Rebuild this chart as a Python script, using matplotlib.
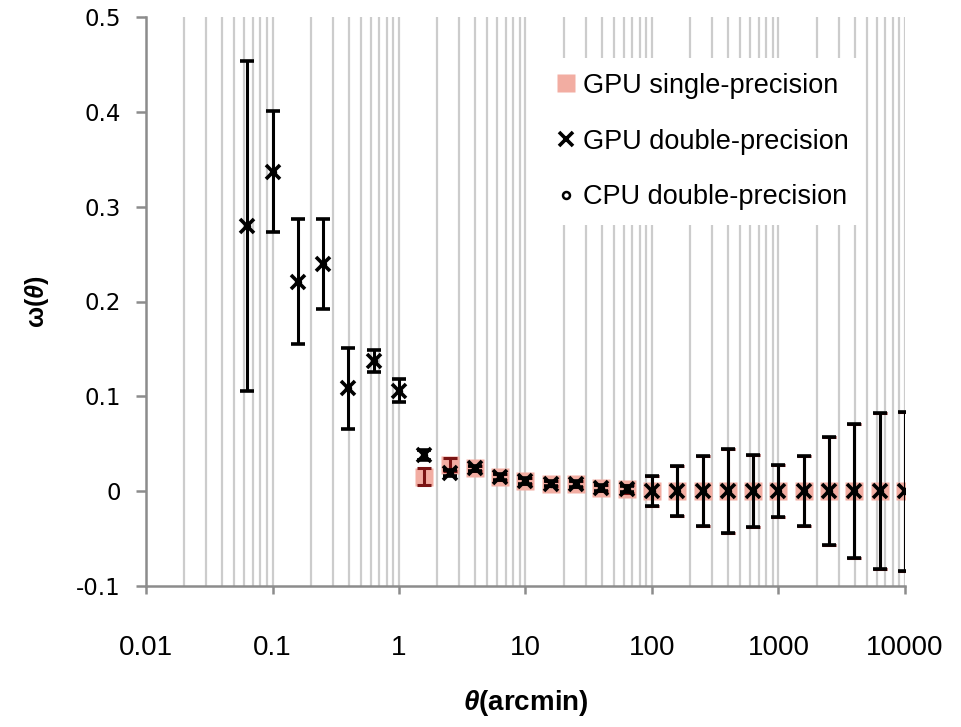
import matplotlib
matplotlib.use("Agg")
import matplotlib.pyplot as plt
from matplotlib.lines import Line2D

plt.rcParams['mathtext.fontset'] = 'custom'
plt.rcParams['mathtext.it'] = 'Liberation Sans:italic:bold'
plt.rcParams['mathtext.rm'] = 'Liberation Sans:bold'

# angular separation bins (arcmin)
theta = [0.0631, 0.1, 0.1585, 0.2512, 0.3981, 0.631, 1.0, 1.585, 2.512, 3.981,
         6.31, 10.0, 15.85, 25.12, 39.81, 63.1, 100.0, 158.5, 251.2, 398.1,
         631.0, 1000.0, 1585.0, 2512.0, 3981.0, 6310.0, 10000.0]

# GPU double precision correlation and error
w_gpu_double = [0.280, 0.337, 0.221, 0.2395, 0.1085, 0.137, 0.106, 0.038, 0.019, 0.024,
                0.015, 0.011, 0.008, 0.0075, 0.003, 0.002, 0.0005, 0.0003, 0.0003, 0.0002,
                0.0002, 0.0002, 0.0001, 0.0001, 0.0001, 0.0, 0.0]
err_double = [0.174, 0.064, 0.066, 0.0475, 0.0425, 0.0115, 0.012, 0.005, 0.003, 0.003,
              0.003, 0.003, 0.003, 0.003, 0.003, 0.003, 0.016, 0.026, 0.037, 0.044,
              0.038, 0.027, 0.037, 0.057, 0.071, 0.082, 0.084]

# CPU double precision (same values as the GPU double run)
w_cpu_double = list(w_gpu_double)

# GPU single precision only for theta >= 1.585
theta_single = theta[7:]
w_gpu_single = [0.015, 0.028, 0.024, 0.015, 0.011, 0.008, 0.0075, 0.003, 0.002, 0.0005,
                0.0003, 0.0003, 0.0002, 0.0002, 0.0002, 0.0001, 0.0001, 0.0001, 0.0, 0.0]
err_single = [0.009, 0.007, 0.003, 0.003, 0.003, 0.003, 0.003, 0.003, 0.004, 0.016,
              0.026, 0.037, 0.044, 0.038, 0.027, 0.037, 0.057, 0.071, 0.082, 0.084]

xtick_vals = [0.01, 0.1, 1, 10, 100, 1000, 10000]
xtick_labels = ['0.01', '0.1', '1', '10', '100', '1000', '10000']
ytick_vals = [-0.1, 0, 0.1, 0.2, 0.3, 0.4, 0.5]
ytick_labels = ['-0.1', '0', '0.1', '0.2', '0.3', '0.4', '0.5']
grid_ticks = [m * 10.0 ** e for e in range(-2, 4) for m in range(2, 11)]

fig = plt.figure(figsize=(9.62, 7.27), dpi=100)
ax = fig.add_axes([146 / 962, 1 - 586 / 727, 759 / 962, 569 / 727])

ax.set_xscale('log')
ax.set_xlim(0.01, 10000)
ax.set_ylim(-0.1, 0.5)

gray = '#8c8c8c'
salmon = '#f2ada2'

# single precision: squares under their own dark red bars
ax.plot(theta_single, w_gpu_single, 's', ms=12.5, mfc=salmon, mec='none', zorder=2)
ax.errorbar(theta_single, w_gpu_single, yerr=err_single, fmt='none',
            ecolor='#7a1414', elinewidth=2.2, capsize=4.7, capthick=2.2, zorder=3)
ax.errorbar(theta, w_gpu_double, yerr=err_double, fmt='x', ms=10, mew=2.6,
            color='black', ecolor='black', elinewidth=2.2,
            capsize=4.7, capthick=2.2, zorder=4)
ax.plot(theta, w_cpu_double, 'o', ms=4, mfc='none', mec='black', mew=1.3, zorder=5)

# vertical grid at every log step
ax.set_xticks(xtick_vals)
ax.set_xticklabels(xtick_labels)
ax.set_xticks(grid_ticks, minor=True)
ax.grid(True, which='both', axis='x', color='#cccccc', lw=1.6, zorder=0)
ax.set_axisbelow(True)

ax.set_yticks(ytick_vals)
ax.set_yticklabels(ytick_labels)

for s in ['top', 'right']:
    ax.spines[s].set_visible(False)
for s in ['left', 'bottom']:
    ax.spines[s].set_color(gray)
    ax.spines[s].set_linewidth(1.8)

ax.tick_params(axis='x', which='major', direction='out', length=6, width=1.8,
               color=gray, pad=29, labelsize=20, labelfontfamily='Liberation Sans')
ax.tick_params(axis='x', which='minor', length=0)
ax.tick_params(axis='y', direction='out', length=7, width=1.8, color=gray, pad=11,
               labelsize=16.5, labelfontfamily='DejaVu Sans')

ax.set_xlabel(r'$\theta$(arcmin)', fontsize=20, fontweight='bold',
              family=['Liberation Sans', 'DejaVu Sans'], labelpad=20)
ax.set_ylabel(r'ω($\theta$)', fontsize=18, fontweight='bold',
              family=['Liberation Sans', 'DejaVu Sans'], labelpad=18)

handles = [
    Line2D([], [], ls='none', marker='s', ms=12.5, mfc=salmon, mec='none'),
    Line2D([], [], ls='none', marker='x', ms=10, mew=2.6, color='black'),
    Line2D([], [], ls='none', marker='o', ms=5, mfc='none', mec='black', mew=1.8),
]
leg = ax.legend(handles, ['GPU single-precision', 'GPU double-precision',
                          'CPU double-precision'],
                loc='upper left', bbox_to_anchor=((540 - 146) / 759, (586 - 58) / 569),
                frameon=True, framealpha=1, facecolor='white', edgecolor='none',
                fancybox=False, handlelength=0.8, handletextpad=0.25,
                labelspacing=1.1, borderpad=0.55, borderaxespad=0,
                prop={'family': ['Liberation Sans', 'DejaVu Sans'], 'size': 19.5})
leg.set_zorder(6)

fig.savefig('out.png', dpi=100)
